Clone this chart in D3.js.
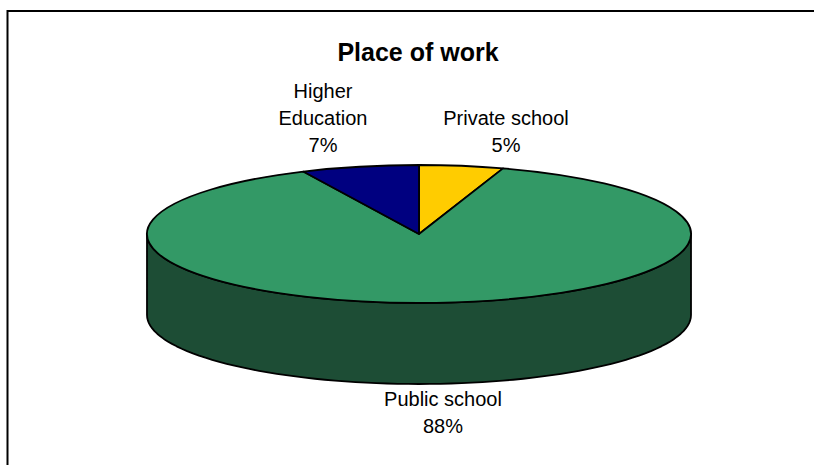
<!DOCTYPE html>
<html>
<head>
<meta charset="utf-8">
<script src="https://cdn.jsdelivr.net/npm/d3@7"></script>
<style>
  html, body { margin: 0; padding: 0; background: #fff; }
  svg { display: block; }
  text { font-family: Arial, "Liberation Sans", sans-serif; fill: #000; }
</style>
</head>
<body>
<svg id="chart" width="814" height="465"></svg>
<script>
// Place of work — share of respondents
const categories = ["Private school", "Public school", "Higher Education"];
const values = [5, 88, 7];
const colors = ["#FFCC00", "#339966", "#000080"];
const sideColors = ["#8a6f00", "#1d4d35", "#00004a"];
const labelLines = [["Private school", "5%"], ["Public school", "88%"], ["Higher", "Education", "7%"]];
const labelPos = [[506, 125], [443, 406], [323, 98]];

const svg = d3.select("#chart");
const W = 814, H = 465;

// chart frame (left and top edges fall inside the view)
svg.append("path")
  .attr("d", `M7.5,${H}V11H${W}`)
  .attr("fill", "none").attr("stroke", "#000").attr("stroke-width", 2);

// title
svg.append("text")
  .attr("x", 418).attr("y", 61)
  .attr("text-anchor", "middle")
  .attr("font-size", 25).attr("font-weight", "bold")
  .text("Place of work");

// 3D pie geometry
const cx = 419, cy = 234, rx = 272, ry = 69, depth = 81;

const pie = d3.pie().sort(null).value(d => d)
  .startAngle(0).endAngle(2 * Math.PI);
const arcs = pie(values);

// front wall: visible lower half, coloured by the slice occupying it
function pt(a, yOff) {
  return [cx + rx * Math.sin(a), cy - ry * Math.cos(a) + yOff];
}
const sideG = svg.append("g");
arcs.forEach((d, i) => {
  const a0 = Math.max(d.startAngle, Math.PI / 2);
  const a1 = Math.min(d.endAngle, 3 * Math.PI / 2);
  if (a1 <= a0) return;
  const steps = 80;
  const top = d3.range(steps + 1).map(k => pt(a0 + (a1 - a0) * k / steps, 0));
  const bot = d3.range(steps + 1).map(k => pt(a1 - (a1 - a0) * k / steps, depth));
  sideG.append("path")
    .attr("d", d3.line()(top.concat(bot)) + "Z")
    .attr("fill", sideColors[i])
    .attr("stroke", "#000").attr("stroke-width", 1.8)
    .attr("stroke-linejoin", "round");
});

// top face: circular arcs squashed into an ellipse
const arcGen = d3.arc().innerRadius(0).outerRadius(rx);
svg.append("g")
  .attr("transform", `translate(${cx},${cy}) scale(1,${ry / rx})`)
  .selectAll("path")
  .data(arcs)
  .join("path")
  .attr("d", arcGen)
  .attr("fill", (d, i) => colors[i])
  .attr("stroke", "#000").attr("stroke-width", 1.8)
  .attr("stroke-linejoin", "round")
  .attr("vector-effect", "non-scaling-stroke");

// data labels
labelLines.forEach((lines, i) => {
  const t = svg.append("text")
    .attr("text-anchor", "middle")
    .attr("font-size", 20);
  lines.forEach((s, k) => {
    t.append("tspan")
      .attr("x", labelPos[i][0])
      .attr("y", labelPos[i][1] + k * 26.8)
      .text(s);
  });
});
</script>
</body>
</html>
